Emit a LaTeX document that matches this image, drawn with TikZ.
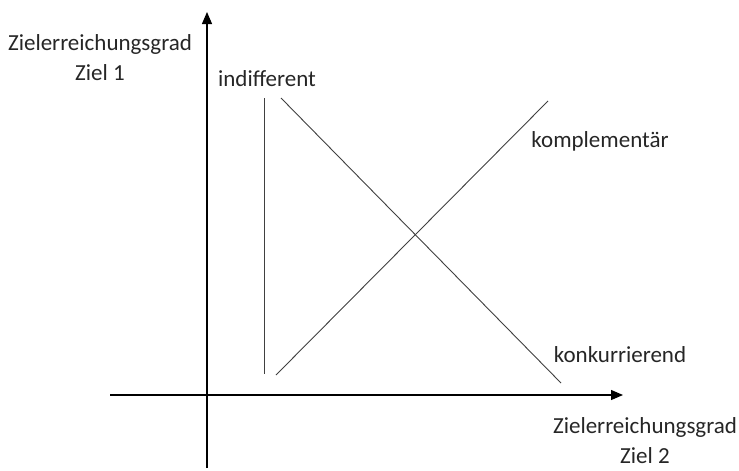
\documentclass[tikz,border=0pt]{standalone}
\usepackage{fontspec}
\setmainfont{Carlito}
\usetikzlibrary{arrows.meta}
\begin{document}
\begin{tikzpicture}[
    x=1pt, y=-1pt,
    axis/.style={line width=1.1pt, -{Triangle[length=12pt,width=10pt]}},
    relation/.style={line width=0.9pt, black!75},
    lbl/.style={font=\fontsize{23}{30}\selectfont, align=center, inner sep=0pt, text=black!85}
  ]
    \useasboundingbox (0,0) rectangle (739,471);

    % Achsen
    \coordinate (yfrom) at (207,468);
    \coordinate (yto) at (207,12);
    \coordinate (xfrom) at (110,395);
    \coordinate (xto) at (623,395);
    \draw[axis] (yfrom) -- (yto);
    \draw[axis] (xfrom) -- (xto);

    % Achsenbeschriftung
    \node[lbl] (ziel1) at (100,58) {Zielerreichungsgrad \\ Ziel 1};
    \node[lbl] (ziel2) at (645,441) {Zielerreichungsgrad \\ Ziel 2};

    % Zielbeziehungen
    \coordinate (ind1) at (264,98);
    \coordinate (ind2) at (264,374);
    \coordinate (kom1) at (276,375);
    \coordinate (kom2) at (548,101);
    \coordinate (kon1) at (281,98);
    \coordinate (kon2) at (561,383);
    \draw[relation] (ind1) -- (ind2);
    \draw[relation] (kom1) -- (kom2);
    \draw[relation] (kon1) -- (kon2);

    % Beschriftung
    \node[lbl] (indifferent) at (267,79) {indifferent};
    \node[lbl] (komplementaer) at (600,141) {komplementär};
    \node[lbl] (konkurrierend) at (620,355) {konkurrierend};
  \end{tikzpicture}
\end{document}
